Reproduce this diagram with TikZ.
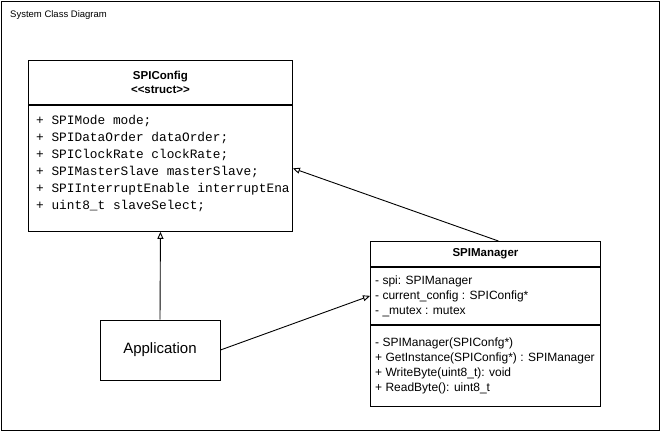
\documentclass[tikz,border=0pt]{standalone}
\usepackage{fontspec}
\setmainfont{Liberation Sans}
\newfontfamily\umlmono{Liberation Mono}
\usepackage{tikz}
\usepackage{xcolor}
\usetikzlibrary{arrows.meta, positioning}

\begin{document}
\begin{tikzpicture}[
  x=1pt, y=-1pt,
  every node/.style={font=\fontsize{12}{15}\selectfont, inner sep=0pt},
  classhdr/.style={rectangle, draw, line width=0.9pt, align=center, font=\fontsize{11.5}{14}\selectfont\bfseries},
  classpart/.style={rectangle, draw, line width=0.9pt},
  members/.style={anchor=north west, align=left},
  realize/.style={-{Triangle[open, length=7pt, width=6pt]}, line width=0.9pt},
]
\useasboundingbox (0,0) rectangle (661,432);
\draw[line width=0.9pt] (1,1) rectangle (659,430);
\node[anchor=north west, font=\fontsize{9.5}{11}\selectfont] (title) at (10,10) {System Class Diagram};

% SPIConfig
\node[classhdr, minimum width=264, minimum height=44, anchor=north west] (cfghdr) at (28,60) {SPIConfig\\\textless\kern0pt\textless struct\textgreater\kern0pt\textgreater};
\node[classpart, minimum width=264, minimum height=126, anchor=north] (cfgbody) at (cfghdr.south) {};
\node[members, font=\umlmono\fontsize{12.8}{17}\selectfont] (cfgattr) at (36,115) {+ SPIMode mode;\\+ SPIDataOrder dataOrder;\\+ SPIClockRate clockRate;\\+ SPIMasterSlave masterSlave;\\+ SPIInterruptEnable interruptEna\\+ uint8\_t slaveSelect;};

% SPIManager
\node[classhdr, minimum width=230, minimum height=25, anchor=north west] (mgrhdr) at (370,241) {SPIManager};
\node[classpart, minimum width=230, minimum height=57, anchor=north] (mgrattr) at (mgrhdr.south) {};
\node[classpart, minimum width=230, minimum height=81, anchor=north] (mgrops) at (mgrattr.south) {};
\node[members] (mgrattrtxt) at (375,276) {- spi: SPIManager\\- current\_config : SPIConfig*\\- \_mutex : mutex};
\node[members] (mgropstxt) at (375,338) {- SPIManager(SPIConfg*)\\+ GetInstance(SPIConfig*) : SPIManager\\+ WriteByte(uint8\_t): void\\+ ReadByte(): uint8\_t};

% Application
\node[rectangle, draw, line width=0.9pt, minimum width=120, minimum height=60, font=\fontsize{15}{18}\selectfont] (app) at (160,350) {Application};

% Arrows
\draw[realize] (app.north) -- (cfgbody.south);
\draw[realize] (app.east) -- (mgrattr.west);
\draw[realize] (mgrhdr.45) -- (cfgbody.east);
\end{tikzpicture}
\end{document}
